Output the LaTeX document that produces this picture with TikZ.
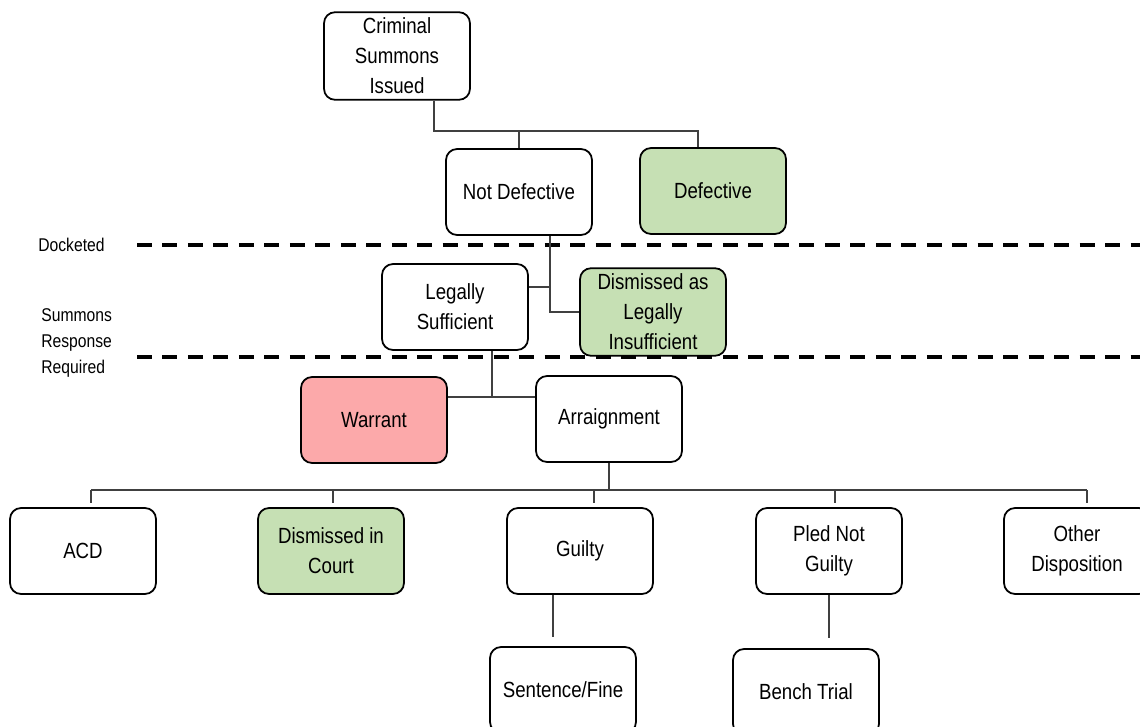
\documentclass[tikz,border=0pt]{standalone}
\usepackage{fontspec}
\setmainfont{Liberation Sans}[FakeStretch=0.85]
\definecolor{ok_green}{HTML}{C6E0B4}
\definecolor{warn_red}{HTML}{FCA9AA}
\tikzstyle{stage_box}=[rectangle,
                       minimum height=1.72cm,
                       minimum width=2.92cm,
                       draw=black,
                       line width=1pt,
                       align=center,
                       font=\fontsize{12.5}{17}\selectfont,
                       rounded corners=0.22cm ]
\tikzstyle{link}=[draw=black!75, line width=0.6pt]
\tikzstyle{phase_line}=[black, line width=2.3pt, dash pattern=on 8.5pt off 6pt]
\tikzstyle{phase_label}=[anchor=west, align=left, inner sep=0pt,
                         font=\fontsize{10.5}{15}\selectfont]

\begin{document}
\begin{tikzpicture}[x=0.02cm, y=-0.02cm]
    \useasboundingbox (0,0) rectangle (1140,727);
    \fill[white] (0,0) rectangle (1140,727);
    \clip (0,0) rectangle (1140,727);

    \node at (397, 56) (CSI) [stage_box] {Criminal\\Summons\\Issued};
    \node at (519, 192) (ND) [stage_box] {Not Defective};
    \node at (713, 191) (DEF) [stage_box, fill=ok_green] {Defective};
    \node at (455, 307) (LS) [stage_box] {Legally\\Sufficient};
    \node at (653, 312) (DLI) [stage_box, fill=ok_green] {Dismissed as\\Legally\\Insufficient};
    \node at (374, 420) (WAR) [stage_box, fill=warn_red] {Warrant};
    \node at (609, 419) (ARR) [stage_box] {Arraignment};

    \foreach \name/\cx/\txt/\col in {ACD/83/ACD/white,
                                     DIC/331/{Dismissed in\\Court}/ok_green,
                                     GUI/580/Guilty/white,
                                     PNG/829/{Pled Not\\Guilty}/white,
                                     OTH/1077/{Other\\Disposition}/white} {
        \node at (\cx, 551) (\name) [stage_box, fill=\col] {\txt};
    }

    \node at (563, 690) (SEN) [stage_box] {Sentence/Fine};
    \node at (806, 692) (BEN) [stage_box] {Bench Trial};

    % phases
    \node at (38, 245) (dock) [phase_label] {Docketed};
    \node at (41, 343) (resp) [phase_label] {Summons\\Response\\Required};
    \coordinate (dock_l) at (137, 245);
    \coordinate (resp_l) at (137, 357);
    \draw[phase_line] (dock_l) -- (dock_l -| 1145,0);
    \draw[phase_line] (resp_l) -- (resp_l -| 1145,0);

    % tree
    \coordinate (csi_split) at (434, 131);
    \coordinate (def_split) at (698, 131);
    \draw[link] (CSI.south -| csi_split) -- (csi_split) -- (def_split) -- (def_split |- DEF.north);
    \draw[link] (ND.north) -- (ND.north |- csi_split);

    \coordinate (nd_split) at (550, 287);
    \draw[link] (ND.south -| nd_split) -- (nd_split |- DLI.west) -- (DLI.west);
    \draw[link] (LS.east |- nd_split) -- (nd_split);

    \coordinate (ls_split) at (492, 397);
    \draw[link] (LS.south -| ls_split) -- (ls_split);
    \draw[link] (WAR.east |- ls_split) -- (ARR.west |- ls_split);

    \foreach \name/\dx in {ACD/91, DIC/333, GUI/594, PNG/835, OTH/1087} {
        \coordinate (drop_\name) at (\dx, 490);
        \draw[link, shorten >=0.08cm] (drop_\name) -- (drop_\name |- \name.north);
    }
    \draw[link] (drop_ACD) -- (drop_OTH);
    \draw[link] (ARR.south) -- (ARR.south |- drop_ACD);

    \coordinate (gui_x) at (553, 600);
    \draw[link, shorten >=0.18cm] (GUI.south -| gui_x) -- (SEN.north -| gui_x);
    \draw[link, shorten >=0.2cm] (PNG.south) -- (PNG.south |- BEN.north);
  \end{tikzpicture}
\end{document}
